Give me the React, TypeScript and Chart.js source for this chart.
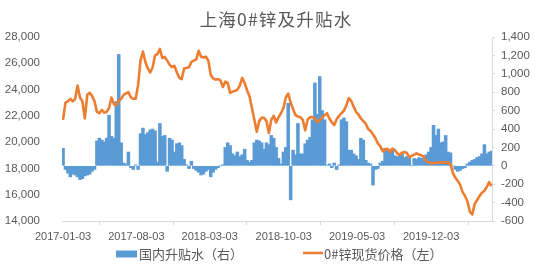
import React, { useEffect, useRef } from "react";
import { Chart, registerables } from "chart.js";

Chart.register(...registerables);

const TITLE = "上海0#锌及升贴水";
const BAR_LABEL = "国内升贴水（右）";
const LINE_LABEL = "0#锌现货价格（左）";

const X_TICK_DATES = ["2017-01-03", "2017-08-03", "2018-03-03", "2018-10-03", "2019-05-03", "2019-12-03"];

const DATES = [
  "2017-01-03","2017-01-10","2017-01-17","2017-01-24","2017-01-31","2017-02-07","2017-02-14","2017-02-21","2017-02-28","2017-03-07","2017-03-14","2017-03-21","2017-03-28","2017-04-04","2017-04-11","2017-04-18","2017-04-25","2017-05-02","2017-05-09","2017-05-16","2017-05-23","2017-05-30","2017-06-06","2017-06-13","2017-06-20","2017-06-27","2017-07-04","2017-07-11","2017-07-18","2017-07-25","2017-08-01","2017-08-08","2017-08-15","2017-08-22","2017-08-29","2017-09-05","2017-09-12","2017-09-19","2017-09-26","2017-10-03","2017-10-10","2017-10-17","2017-10-24","2017-10-31","2017-11-07","2017-11-14","2017-11-21","2017-11-28","2017-12-05","2017-12-12","2017-12-19","2017-12-26",
  "2018-01-02","2018-01-09","2018-01-16","2018-01-23","2018-01-30","2018-02-06","2018-02-13","2018-02-20","2018-02-27","2018-03-06","2018-03-13","2018-03-20","2018-03-27","2018-04-03","2018-04-10","2018-04-17","2018-04-24","2018-05-01","2018-05-08","2018-05-15","2018-05-22","2018-05-29","2018-06-05","2018-06-12","2018-06-19","2018-06-26","2018-07-03","2018-07-10","2018-07-17","2018-07-24","2018-07-31","2018-08-07","2018-08-14","2018-08-21","2018-08-28","2018-09-04","2018-09-11","2018-09-18","2018-09-25","2018-10-02","2018-10-09","2018-10-16","2018-10-23","2018-10-30","2018-11-06","2018-11-13","2018-11-20","2018-11-27","2018-12-04","2018-12-11","2018-12-18","2018-12-25",
  "2019-01-01","2019-01-08","2019-01-15","2019-01-22","2019-01-29","2019-02-05","2019-02-12","2019-02-19","2019-02-26","2019-03-05","2019-03-12","2019-03-19","2019-03-26","2019-04-02","2019-04-09","2019-04-16","2019-04-23","2019-04-30","2019-05-07","2019-05-14","2019-05-21","2019-05-28","2019-06-04","2019-06-11","2019-06-18","2019-06-25","2019-07-02","2019-07-09","2019-07-16","2019-07-23","2019-07-30","2019-08-06","2019-08-13","2019-08-20","2019-08-27","2019-09-03","2019-09-10","2019-09-17","2019-09-24","2019-10-01","2019-10-08","2019-10-15","2019-10-22","2019-10-29","2019-11-05","2019-11-12","2019-11-19","2019-11-26","2019-12-03","2019-12-10","2019-12-17","2019-12-24","2019-12-31",
  "2020-01-07","2020-01-14","2020-01-21","2020-01-28","2020-02-04","2020-02-11","2020-02-18","2020-02-25","2020-03-03","2020-03-10","2020-03-17","2020-03-24","2020-03-31","2020-04-07","2020-04-14","2020-04-21","2020-04-28","2020-05-05","2020-05-12","2020-05-19","2020-05-26",
];

// 0#锌现货价格（左）
const PRICE = [
  21700,23000,23100,23300,23100,23300,24300,23400,23100,21800,23600,23750,23500,23100,22300,22200,22450,22250,22300,22600,
  23400,22900,22800,23150,23300,23600,23700,23800,23400,23300,23300,24350,26200,26900,26100,25600,25300,25700,26600,26700,
  27100,26400,26480,26200,25900,25700,25800,25300,24900,24800,25600,25650,25700,26100,26200,26300,26950,26500,26450,26500,
  26200,25100,24850,24750,24800,24700,24200,24600,24500,23750,23850,23900,24000,24300,24900,24500,23950,23500,22600,21700,
  20800,21600,21850,21850,21600,20700,21700,22000,21500,21900,22200,22600,23400,23700,23000,22500,22050,21950,21900,21700,
  20900,21700,21900,21900,21800,21530,21650,21900,22050,22200,21800,21500,21300,21750,22000,22200,22400,22800,23350,23150,
  22700,22300,22100,21800,21600,21400,21000,20850,20600,20300,19900,19700,19300,19450,19500,19250,19500,19400,19150,19020,
  19200,19250,19170,18850,18950,19050,19150,19050,19000,18900,18550,18450,18400,18410,18420,18450,18480,18410,18470,18450,
  18350,17650,17300,17050,16750,16200,15900,15500,14700,14500,15300,15600,15900,16150,16300,16600,16950,16650,
];

// 国内升贴水（右）
const PREMIUM = [
  190,-40,-80,-120,-90,-100,-120,-150,-140,-110,-100,-90,-60,-40,270,300,280,260,300,550,
  320,300,700,1210,250,30,20,150,-20,-40,10,-40,350,410,340,360,390,400,380,40,
  460,320,330,-60,300,280,150,240,250,220,70,10,-30,50,-30,-50,-70,-100,-90,-60,
  -40,-120,-70,-40,-20,0,10,200,250,220,130,110,150,100,120,180,60,40,60,250,
  280,270,250,180,250,230,330,300,200,80,20,150,200,680,-370,170,120,460,130,130,
  240,280,310,500,900,560,970,600,500,0,20,-20,30,-40,10,500,520,480,170,170,
  130,110,70,300,280,60,30,20,-210,-40,-30,30,50,190,180,170,190,110,100,110,
  130,90,100,110,0,80,70,90,80,90,120,150,200,440,330,400,250,260,330,150,
  140,0,-40,-60,-50,-30,-20,20,40,60,70,90,100,130,230,130,150,160,
];

const BLUE = "#5B9BD5";
const ORANGE = "#ED7D31";
const TEXT = "#595959";
const AXIS = "#D9D9D9";
const NUM_FONT = '"Liberation Sans", "Noto Sans CJK SC", sans-serif';
const CJK_FONT = '"Noto Sans CJK SC", "Liberation Sans", sans-serif';

const DAY0 = Date.parse("2017-01-03T00:00:00Z");
const dayOf = (d: string) => Math.round((Date.parse(d + "T00:00:00Z") - DAY0) / 86400000);
const fmt = (v: number) => Number(v).toLocaleString("en-US");

const decorPlugin = {
  id: "decor",
  afterDraw(chart: any) {
    const ctx = chart.ctx as CanvasRenderingContext2D;
    const cx = chart.width / 2;
    ctx.save();
    // title
    ctx.fillStyle = TEXT;
    ctx.font = `17.5px ${CJK_FONT}`;
    (ctx as any).letterSpacing = "1.2px";
    ctx.textAlign = "center";
    ctx.textBaseline = "middle";
    ctx.fillText(TITLE, cx + 1, 19);
    (ctx as any).letterSpacing = "0px";
    // legend
    ctx.font = `13px ${CJK_FONT}`;
    ctx.textAlign = "left";
    ctx.fillStyle = BLUE;
    ctx.fillRect(116, 250.5, 21, 7);
    ctx.fillStyle = TEXT;
    ctx.fillText(BAR_LABEL, 139, 254);
    ctx.strokeStyle = ORANGE;
    ctx.lineWidth = 2.6;
    ctx.beginPath();
    ctx.moveTo(303, 253);
    ctx.lineTo(323, 253);
    ctx.stroke();
    ctx.fillText(LINE_LABEL, 324, 254);
    ctx.restore();
  },
};

export default function App() {
  const ref = useRef<HTMLCanvasElement | null>(null);
  useEffect(() => {
    if (!ref.current) return;
    const xs = DATES.map(dayOf);
    const tickDays = X_TICK_DATES.map(dayOf);
    const chart = new Chart(ref.current, {
      type: "bar",
      data: {
        datasets: [
          {
            type: "line",
            label: LINE_LABEL,
            data: xs.map((x, i) => ({ x, y: PRICE[i] })),
            yAxisID: "yL",
            xAxisID: "x",
            borderColor: ORANGE,
            backgroundColor: ORANGE,
            borderWidth: 2.6,
            pointRadius: 0,
            tension: 0,
            borderJoinStyle: "round",
            order: 1,
          } as any,
          {
            type: "bar",
            label: BAR_LABEL,
            data: xs.map((x, i) => ({ x, y: PREMIUM[i] })),
            yAxisID: "yR",
            xAxisID: "x",
            backgroundColor: BLUE,
            borderWidth: 0,
            barThickness: 2.9,
            order: 2,
          } as any,
        ],
      },
      options: {
        animation: false,
        responsive: false,
        layout: { padding: { top: 37, bottom: 0, left: 0, right: 0 } },
        plugins: {
          legend: { display: false },
          title: { display: false },
          tooltip: { enabled: false },
        },
        scales: {
          x: {
            type: "linear",
            min: -3,
            max: 1240,
            offset: false,
            grid: { display: true, drawOnChartArea: false, drawTicks: true, tickLength: 4, color: AXIS },
            border: { display: true, color: AXIS },
            afterBuildTicks: (s: any) => {
              s.ticks = tickDays.map((v) => ({ value: v }));
            },
            ticks: {
              autoSkip: false,
              maxRotation: 0,
              padding: 5,
              color: TEXT,
              font: { size: 11, family: NUM_FONT },
              callback: (v: any) => {
                const idx = tickDays.indexOf(Number(v));
                return idx >= 0 ? X_TICK_DATES[idx] : "";
              },
            },
            afterFit: (s: any) => {
              s.height = 50;
            },
          },
          yL: {
            type: "linear",
            position: "left",
            min: 14000,
            max: 28000,
            grid: { display: false },
            border: { display: false },
            ticks: {
              stepSize: 2000,
              padding: 14,
              color: TEXT,
              font: { size: 11.5, family: NUM_FONT },
              callback: (v: any) => fmt(v),
            },
            afterFit: (s: any) => {
              s.width = 62;
            },
          },
          yR: {
            type: "linear",
            position: "right",
            min: -600,
            max: 1400,
            grid: { display: true, drawOnChartArea: false, drawTicks: true, tickLength: 3, color: AXIS },
            border: { display: true, color: AXIS },
            ticks: {
              stepSize: 200,
              padding: 6,
              color: TEXT,
              font: { size: 11.5, family: NUM_FONT },
              callback: (v: any) => fmt(v),
            },
            afterFit: (s: any) => {
              s.width = 58;
            },
          },
        },
      } as any,
      plugins: [decorPlugin],
    });
    return () => chart.destroy();
  }, []);

  return (
    <div style={{ position: "fixed", left: 0, top: 0, width: 550, height: 271, background: "#fff" }}>
      <canvas ref={ref} width={550} height={271} style={{ display: "block" }} />
    </div>
  );
}
